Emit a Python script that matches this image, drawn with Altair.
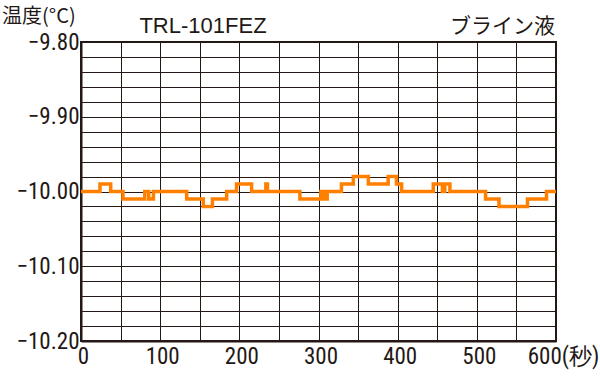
import altair as alt
import pandas as pd

# step-change times (s) and temperatures (°C)
times = [0, 24, 37.5, 53, 80.5, 85.5, 91.5, 133.5, 154.5, 166, 184, 196.5, 215.5,
         233.5, 235.5, 276.5, 303, 307, 311, 329, 344, 363, 388, 398.5, 405,
         445, 456.5, 459.5, 466, 511, 528, 564, 588, 600]
temps = [-10.00, -9.99, -10.00, -10.01, -10.00, -10.01, -10.00, -10.01, -10.02, -10.01, -10.00, -9.99, -10.00,
         -9.99, -10.00, -10.01, -10.00, -10.01, -10.00, -9.99, -9.98, -9.99, -9.98, -9.99, -10.00,
         -9.99, -10.00, -9.99, -10.00, -10.01, -10.02, -10.01, -10.00, -10.00]

x_grid = list(range(0, 601, 50))
y_grid = [round(-10.20 + 0.02 * i, 2) for i in range(21)]

df = pd.DataFrame({"t": times, "temp": temps})

NUM_FONT = "Liberation Sans Narrow, Roboto Condensed, Arial Narrow, Liberation Sans, sans-serif"
CJK_FONT = "Noto Sans CJK JP"
INK = "#231815"

line = alt.Chart(df).mark_line(
    interpolate="step-after", color="#FF8000", strokeWidth=3.5
).encode(
    x=alt.X("t:Q", scale=alt.Scale(domain=[0, 600], nice=False),
            axis=alt.Axis(values=x_grid, title=None, grid=True, gridColor=INK, gridOpacity=1,
                          gridWidth=1, domainColor=INK, domainWidth=2, ticks=False,
                          labelFont=NUM_FONT, labelFontSize=23, labelColor=INK,
                          labelPadding=4, labelFlush=False, labelOverlap=False,
                          labelOffset={"condition": {"test": "datum.value == 600", "value": 7}, "value": 2},
                          labelExpr="datum.value % 100 == 0 ? (datum.value == 600 ? '600(秒)' : datum.label) : ''")),
    y=alt.Y("temp:Q", scale=alt.Scale(domain=[-10.20, -9.80], nice=False, zero=False),
            axis=alt.Axis(values=y_grid, title=None, grid=True, gridColor=INK, gridOpacity=1,
                          gridWidth=1, domainColor=INK, domainWidth=2, ticks=False,
                          labelFont=NUM_FONT, labelFontSize=23, labelColor=INK,
                          labelPadding=2, labelFlush=False, labelOverlap=False,
                          labelExpr="abs(round(datum.value * 100)) % 10 == 0 ? format(datum.value, '.2f') : ''")),
)

t1 = alt.Chart(pd.DataFrame({"label": ["温度(°C)"]})).mark_text(
    font=CJK_FONT, fontSize=20, color=INK, align="left", baseline="alphabetic"
).encode(text="label:N", x=alt.value(-79), y=alt.value(-19))

t2 = alt.Chart(pd.DataFrame({"label": ["TRL-101FEZ"]})).mark_text(
    font="Liberation Sans, sans-serif", fontSize=22, color=INK, align="center", baseline="alphabetic"
).encode(text="label:N", x=alt.value(122), y=alt.value(-9))

t3 = alt.Chart(pd.DataFrame({"label": ["ブライン液"]})).mark_text(
    font=CJK_FONT, fontSize=21, color=INK, align="right", baseline="alphabetic"
).encode(text="label:N", x=alt.value(474), y=alt.value(-9))

chart = alt.layer(line, t1, t2, t3).properties(
    width=475, height=299,
    autosize=alt.AutoSizeParams(type="none"),
    padding={"left": 81, "top": 42, "right": 44, "bottom": 35},
    background="white",
).configure_view(stroke=INK, strokeWidth=2)

chart.save("out.html", embed_options={"renderer": "svg", "actions": False})
